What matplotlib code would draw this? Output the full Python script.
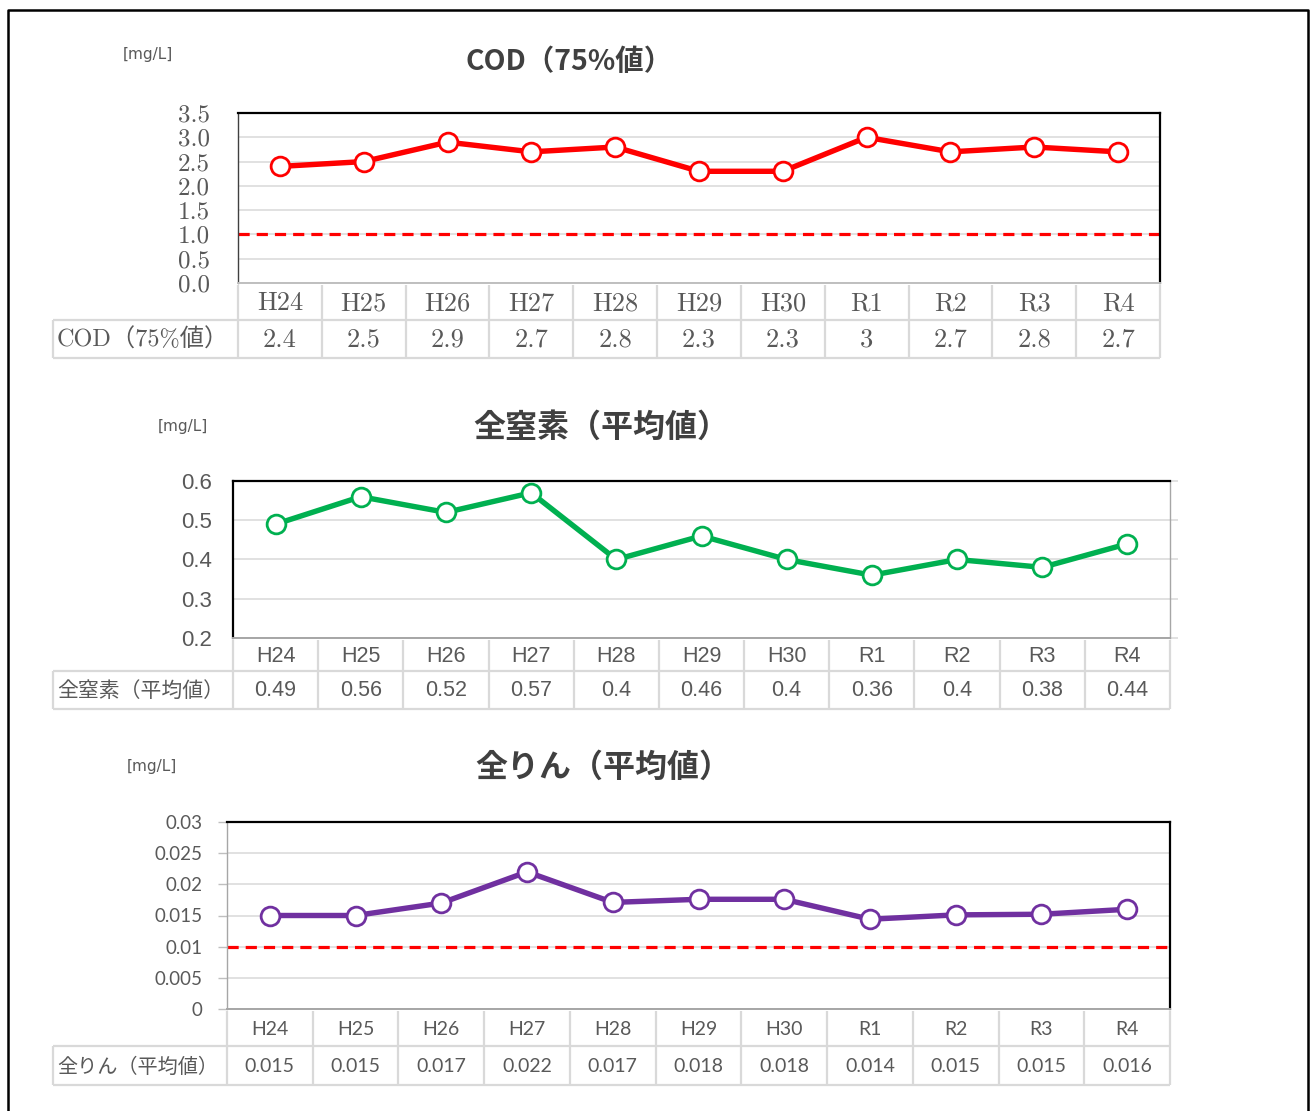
import numpy as np
import matplotlib.pyplot as plt
from matplotlib.ticker import FuncFormatter

# データ
years = ["H24", "H25", "H26", "H27", "H28", "H29", "H30", "R1", "R2", "R3", "R4"]

cod_name = "COD（75%値）"
cod_vals = [2.4, 2.5, 2.9, 2.7, 2.8, 2.3, 2.3, 3.0, 2.7, 2.8, 2.7]
cod_text = ["2.4", "2.5", "2.9", "2.7", "2.8", "2.3", "2.3", "3", "2.7", "2.8", "2.7"]
cod_target = 1.0
cod_ticks = [0.0, 0.5, 1.0, 1.5, 2.0, 2.5, 3.0, 3.5]

tn_name = "全窒素（平均値）"
tn_vals = [0.49, 0.56, 0.52, 0.57, 0.40, 0.46, 0.40, 0.36, 0.40, 0.38, 0.44]
tn_text = ["0.49", "0.56", "0.52", "0.57", "0.4", "0.46", "0.4", "0.36", "0.4", "0.38", "0.44"]
tn_ticks = [0.2, 0.3, 0.4, 0.5, 0.6]

tp_name = "全りん（平均値）"
tp_vals = [0.0150, 0.0150, 0.0170, 0.0220, 0.0171, 0.0176, 0.0176, 0.0144, 0.0151, 0.0152, 0.0160]
tp_text = ["0.015", "0.015", "0.017", "0.022", "0.017", "0.018", "0.018", "0.014", "0.015", "0.015", "0.016"]
tp_target = 0.01
tp_ticks = [0, 0.005, 0.01, 0.015, 0.02, 0.025, 0.03]

unidad = "[mg/L]"

W, H = 1314, 1111
TXT = "#595959"
GRID = "#D9D9D9"
CJK = "Noto Sans CJK JP"

fig = plt.figure(figsize=(W / 100, H / 100), dpi=100)

# capa de fondo en pixeles (marco, tablas, titulos)
bg = fig.add_axes([0, 0, 1, 1])
bg.set_xlim(0, W)
bg.set_ylim(H, 0)
bg.axis("off")

bg.plot([8, 8, 1308, 1308], [H + 5, 10, 10, H + 5], color="black", lw=1.8, clip_on=False)


def px_box(x0, y0, x1, y1):
    return [x0 / W, 1 - y1 / H, (x1 - x0) / W, (y1 - y0) / H]


def draw_table(ax_x0, ax_x1, x_left, y0, y1, y2, name, textos, fam, size, name_size):
    n = len(years)
    edges = np.linspace(ax_x0, ax_x1, n + 1)
    centers = (edges[:-1] + edges[1:]) / 2
    kw = dict(color=GRID, lw=1.6, solid_capstyle="butt")
    bg.plot([x_left, ax_x1], [y1, y1], **kw)
    bg.plot([x_left, ax_x1], [y2, y2], **kw)
    bg.plot([x_left, x_left], [y1, y2], **kw)
    for e in edges:
        bg.plot([e, e], [y0, y2], **kw)
    for c, cat, t in zip(centers, years, textos):
        bg.text(c, (y0 + y1) / 2 + 1, cat, ha="center", va="center",
                family=fam, fontsize=size, color=TXT)
        bg.text(c, (y1 + y2) / 2 + 1, t, ha="center", va="center",
                family=fam, fontsize=size, color=TXT)
    bg.text(x_left + 4, (y1 + y2) / 2 + 1, name, ha="left", va="center",
            family=fam, fontsize=name_size, color=TXT)


def panel(box, vals, color, ticks, fmt, fam, tsize, pad, spines, target=None,
          left_ticks=False):
    ax = fig.add_axes(px_box(*box))
    x = np.arange(len(vals))
    ax.set_xlim(-0.5, len(vals) - 0.5)
    ax.set_ylim(ticks[0], ticks[-1])
    ax.set_yticks(ticks)
    ax.yaxis.set_major_formatter(FuncFormatter(fmt))
    ax.set_xticks([])
    ax.grid(axis="y", color=GRID, lw=1.1)
    ax.set_axisbelow(True)
    if left_ticks:
        ax.tick_params(axis="y", length=6.5, width=1, color="#BFBFBF", pad=pad,
                       labelsize=tsize, labelcolor=TXT)
    else:
        ax.tick_params(axis="y", length=0, pad=pad, labelsize=tsize, labelcolor=TXT)
    for lab in ax.get_yticklabels():
        lab.set_family(fam)
    for side, (c, w) in spines.items():
        ax.spines[side].set_color(c)
        ax.spines[side].set_linewidth(w)
    if target is not None:
        ax.axhline(target, color="#FF0000", lw=2.3, linestyle=(0, (3.5, 2.2)), zorder=2)
    ax.plot(x, vals, color=color, lw=3.9, marker="o", ms=13.5, mfc="white",
            mec=color, mew=2.0, zorder=3, clip_on=False)
    return ax


# PANEL 1 - COD
serif = ["cmr10", CJK]
a1 = (238, 113, 1160, 283)
panel(a1, cod_vals, "#FF0000", cod_ticks, lambda v, _: f"{v:.1f}", serif, 18, 20,
      {"top": ("black", 1.6), "right": ("black", 1.6), "left": ("#404040", 1.0),
       "bottom": ("#BFBFBF", 1.4)}, target=cod_target)
draw_table(a1[0], a1[2], 53, 285, 320, 358, cod_name, cod_text, serif, 19, 17.5)
bg.text(569, 62, cod_name, ha="center", va="center", family=CJK, fontsize=20.5,
        fontweight="bold", color="#404040")
bg.text(148, 54, unidad, ha="center", va="center", family="DejaVu Sans",
        fontsize=11, color=TXT)

# PANEL 2 - 全窒素
sans2 = ["Liberation Sans", CJK]
a2 = (233, 481, 1170, 638)
ax2 = panel(a2, tn_vals, "#00B050", tn_ticks, lambda v, _: f"{v:.1f}", sans2, 16, 9,
            {"top": ("black", 1.6), "left": ("black", 1.6), "right": ("#A6A6A6", 1.0),
             "bottom": ("#A6A6A6", 1.4)})
ax2.tick_params(axis="y", right=True, length=6, color=GRID, width=1.1, direction="out")
ax2.tick_params(axis="y", left=False)
draw_table(a2[0], a2[2], 53, 640, 671, 709, tn_name, tn_text, sans2, 15.5, 15)
bg.text(601, 428, tn_name, ha="center", va="center", family=CJK, fontsize=23,
        fontweight="bold", color="#404040")
bg.text(183, 426, unidad, ha="center", va="center", family="DejaVu Sans",
        fontsize=11, color=TXT)

# PANEL 3 - 全りん
sans = ["Lato", CJK]
a3 = (227, 822, 1170, 1009)
panel(a3, tp_vals, "#7030A0", tp_ticks, lambda v, _: f"{round(v, 3):g}", sans, 13.5, 11,
      {"top": ("black", 1.6), "right": ("black", 1.6), "left": ("#A6A6A6", 1.0),
       "bottom": ("#A6A6A6", 1.4)}, target=tp_target, left_ticks=True)
draw_table(a3[0], a3[2], 53, 1011, 1046, 1085, tp_name, tp_text, sans, 14, 14.5)
bg.text(603, 768, tp_name, ha="center", va="center", family=CJK, fontsize=23,
        fontweight="bold", color="#404040")
bg.text(152, 766, unidad, ha="center", va="center", family="DejaVu Sans",
        fontsize=11, color=TXT)

fig.savefig("out.png", dpi=100)
